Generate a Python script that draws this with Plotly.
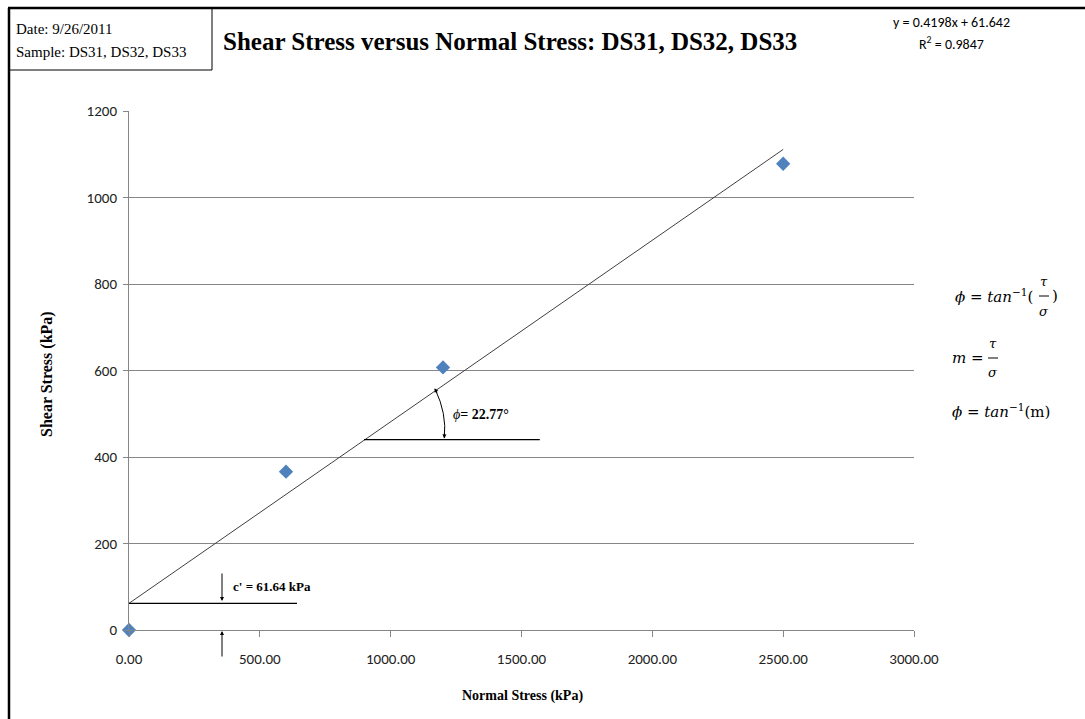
import plotly.graph_objects as go

# ---- data ----
normal_stress = [0, 600, 1200, 2500]
shear_stress = [0, 366, 607, 1078]
slope = 0.4198
intercept = 61.642
fit_x = [0, 2500]
x_ticks = [0, 500, 1000, 1500, 2000, 2500, 3000]
x_tick_labels = ["0.00", "500.00", "1000.00", "1500.00", "2000.00", "2500.00", "3000.00"]
y_ticks = [0, 200, 400, 600, 800, 1000, 1200]
y_tick_labels = ["0", "200", "400", "600", "800", "1000", "1200"]
cohesion = 61.64
phi_deg = 22.77

W, H = 1085, 719
ML, MR, MT, MB = 129, 171, 111, 89
PW, PH = W - ML - MR, H - MT - MB


def px(x):
    return (x - ML) / PW


def py(y):
    return (H - MB - y) / PH


fit_y = [slope * v + intercept for v in fit_x]

fig = go.Figure()
fig.add_trace(go.Scatter(x=fit_x, y=fit_y, mode="lines",
                         line=dict(color="#404040", width=1), showlegend=False,
                         hoverinfo="skip"))
fig.add_trace(go.Scatter(x=normal_stress, y=shear_stress, mode="markers",
                         marker=dict(symbol="diamond", size=11, color="#4F81BD"),
                         showlegend=False, cliponaxis=False))

serif = "Liberation Serif, Times New Roman, serif"
calibri = "Carlito, Liberation Sans Narrow, Liberation Sans, Arial, sans-serif"
cambria = "DejaVu Serif, Liberation Serif, serif"

shapes = []
annotations = []


def pline(x0, y0, x1, y1, width=1.0, color="black"):
    shapes.append(dict(type="line", xref="paper", yref="paper", x0=px(x0), x1=px(x1),
                       y0=py(y0), y1=py(y1), line=dict(color=color, width=width)))


# outer frame
pline(9, 8, 9, 719, 2.5)
pline(8, 8, 1085, 8, 2.5)
# date box
pline(212, 8, 212, 70, 1)
pline(9, 70, 212, 70, 1)

# cohesion line
shapes.append(dict(type="line", xref="x", yref="y", x0=0, x1=642, y0=cohesion, y1=cohesion,
                   line=dict(color="black", width=1.2)))
# phi horizontal line
shapes.append(dict(type="line", xref="x", yref="y", x0=898, x1=1570, y0=440, y1=440,
                   line=dict(color="black", width=1.2)))
# arc for phi (quadratic path in data coords)
shapes.append(dict(type="path", xref="x", yref="y",
                   path="M 1170,557 Q 1215,500 1205,445",
                   line=dict(color="black", width=1)))


def parrow(x, y, ax, ay):
    annotations.append(dict(x=px(x), y=py(y), ax=ax - x, ay=ay - y, xref="paper", yref="paper",
                            axref="pixel", ayref="pixel", showarrow=True, arrowhead=2,
                            arrowsize=0.8, arrowwidth=1, arrowcolor="black", text=""))


# arrows for cohesion
parrow(222, 601, 222, 572)
parrow(222, 631, 222, 658)
# arrow heads for phi arc
annotations.append(dict(x=1168, y=559, ax=1180, ay=545, xref="x", yref="y",
                        axref="x", ayref="y", showarrow=True, arrowhead=2, arrowsize=0.8,
                        arrowwidth=1, arrowcolor="black", text=""))
annotations.append(dict(x=1205, y=443, ax=1206, ay=462, xref="x", yref="y",
                        axref="x", ayref="y", showarrow=True, arrowhead=2, arrowsize=0.8,
                        arrowwidth=1, arrowcolor="black", text=""))


def txt(x, y, text, size, family, color="black", xanchor="left", textangle=0):
    annotations.append(dict(x=px(x), y=py(y), xref="paper", yref="paper", text=text,
                            showarrow=False, xanchor=xanchor, yanchor="middle",
                            font=dict(size=size, family=family, color=color),
                            textangle=textangle))


txt(14, 29, "Date: 9/26/2011", 15, serif)
txt(14, 52, "Sample: DS31, DS32, DS33", 15, serif)
txt(510, 42, "<b>Shear Stress versus Normal Stress: DS31, DS32, DS33</b>", 25, serif, xanchor="center")
txt(951, 22, "y = 0.4198x + 61.642", 14, calibri, xanchor="center")
txt(951, 44, "R<sup>2</sup> = 0.9847", 14, calibri, xanchor="center")
txt(231, 586, "<b>c' = 61.64 kPa</b>", 13, serif)
txt(451, 414, "<i>ϕ</i><b>= 22.77°</b>", 14, serif)

txt(47, 374, "<b>Shear Stress (kPa)</b>", 16, serif, xanchor="center", textangle=-90)
txt(522, 696, "<b>Normal Stress (kPa)</b>", 14, serif, xanchor="center")

# formulas
txt(953, 296, "<i>ϕ</i> = <i>tan</i><sup>−1</sup>(", 15, cambria)
txt(1044, 281, "<i>τ</i>", 13, cambria, xanchor="center")
txt(1044, 311, "<i>σ</i>", 13, cambria, xanchor="center")
pline(1039, 296, 1049, 296)
txt(1050, 296, ")", 15, cambria)
txt(950, 358, "<i>m</i> =", 15, cambria)
txt(993, 343, "<i>τ</i>", 13, cambria, xanchor="center")
txt(993, 373, "<i>σ</i>", 13, cambria, xanchor="center")
pline(988, 358, 998, 358)
txt(950, 411, "<i>ϕ</i> = <i>tan</i><sup>−1</sup>(m)", 15, cambria)

fig.update_layout(
    width=W, height=H,
    margin=dict(l=ML, r=MR, t=MT, b=MB),
    plot_bgcolor="white", paper_bgcolor="white",
    shapes=shapes, annotations=annotations,
    xaxis=dict(range=[0, 3000], tickvals=x_ticks, ticktext=x_tick_labels,
               showgrid=False, zeroline=False, showline=True, linecolor="#868686", linewidth=1,
               ticks="outside", ticklen=6, tickcolor="#868686", ticklabelstandoff=9,
               tickfont=dict(size=15, family=calibri, color="#222")),
    yaxis=dict(range=[0, 1200], tickvals=y_ticks, ticktext=y_tick_labels,
               showgrid=True, gridcolor="#868686", gridwidth=1, zeroline=False,
               showline=True, linecolor="#868686", linewidth=1,
               ticks="outside", ticklen=5, tickcolor="#868686", ticklabelstandoff=3,
               tickfont=dict(size=15, family=calibri, color="#222")),
)

fig.write_html("out.html")
